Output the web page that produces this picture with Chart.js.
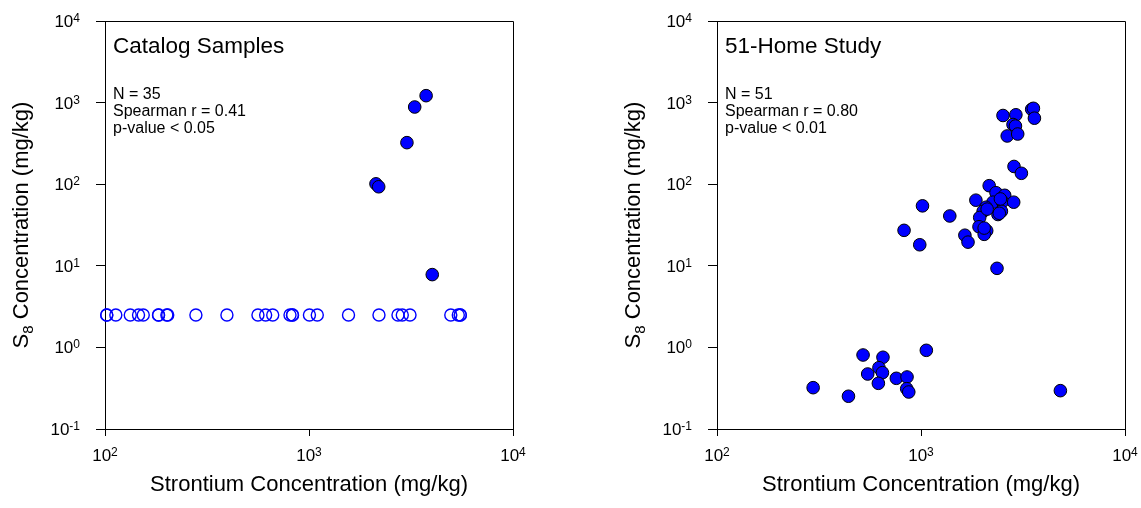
<!DOCTYPE html>
<html>
<head>
<meta charset="utf-8">
<title>S8 vs Strontium</title>
<script src="https://cdn.jsdelivr.net/npm/chart.js@4/dist/chart.umd.min.js"></script>
<style>
  html, body { margin: 0; padding: 0; background: #fff; overflow: hidden; }
  #wrap { position: relative; width: 1141px; height: 508px; }
  canvas { position: absolute; top: 0; }
</style>
</head>
<body>
<div id="wrap">
  <canvas id="catalog" width="570" height="508" style="left:0"></canvas>
  <canvas id="homes" width="529" height="508" style="left:612px"></canvas>
</div>
<script>
// axis decades and their exponent labels
const xTicks = [100, 1000, 10000]
const xTickExp = ['2', '3', '4']
const yTicks = [0.1, 1, 10, 100, 1000, 10000]
const yTickExp = ['-1', '0', '1', '2', '3', '4']

// Catalog samples: Sr and S8 in mg/kg, detects
const catalogSr = [2130, 2196, 3020, 3297, 3750, 4020]
const catalogS8 = [101, 93, 323, 883, 1216, 7.8]
// catalog samples with S8 not detected, drawn at the reporting level
const catalogNdSr = [102, 102, 113, 133, 146, 154, 183, 183, 201, 203, 279, 396, 562, 613, 664,
  807, 830, 830, 1005, 1098, 1562, 2203, 2730, 2866, 3127, 4955, 5393, 5517, 5517]
const ndLevel = 2.5

// 51-home study
const homeSr = [2523, 2918, 3488, 3556, 3597, 2825, 2904, 2646, 2979, 2857, 3105, 2159, 2332, 2572,
  1858, 2254, 2506, 2847, 2083, 2017, 2478, 2384, 1940, 1017, 1384, 826, 986, 1924, 2099, 2041,
  1641, 1700, 2358, 296, 441, 520, 651, 622, 548, 647, 618, 757, 854, 851, 871, 1062, 4822,
  2420, 2110, 2450, 2040]
const homeS8 = [695, 709, 828, 851, 644, 539, 516, 390, 412, 165, 136, 95.9, 78.7, 73.1,
  63.7, 60.2, 61.1, 60.2, 52.2, 46.6, 46.6, 42.5, 39.1, 54.3, 40.8, 27.2, 18.1, 30.1, 26.9, 24.3,
  23.7, 19.5, 9.31, 0.321, 0.252, 0.807, 0.757, 0.564, 0.472, 0.490, 0.363, 0.418, 0.434, 0.312, 0.284, 0.921, 0.295,
  44.0, 49.5, 66.0, 29.0]

const catalogText = ['Catalog Samples', ['N = 35', 'Spearman r = 0.41', 'p-value < 0.05']]
const homeText = ['51-Home Study', ['N = 51', 'Spearman r = 0.80', 'p-value < 0.01']]
const xTitle = 'Strontium Concentration (mg/kg)'
const yTitle = ['S', '8', ' Concentration (mg/kg)']

const FONT = '"Liberation Sans", Arial, sans-serif'
const pts = (xs, ys) => xs.map((x, i) => ({ x, y: Array.isArray(ys) ? ys[i] : ys }))

// 10^n labels, the box, axis titles and the panel annotation
const annotate = {
  id: 'annotate',
  afterDraw(chart, args, opts) {
    const { ctx, chartArea: a, scales: { x, y } } = chart
    ctx.save()
    ctx.strokeStyle = '#000'
    ctx.lineWidth = 1
    ctx.beginPath()
    ctx.moveTo(a.left + 0.5, a.top + 0.5)
    ctx.lineTo(a.right + 0.5, a.top + 0.5)
    ctx.lineTo(a.right + 0.5, a.bottom + 0.5)
    ctx.stroke()

    ctx.fillStyle = '#000'
    const base = '17px ' + FONT
    const sup = '12px ' + FONT

    const label = (exp) => {
      ctx.font = base
      const bw = ctx.measureText('10').width
      ctx.font = sup
      const sw = ctx.measureText(exp).width
      return { bw, sw }
    }

    yTicks.forEach((v, i) => {
      const py = y.getPixelForValue(v)
      const { bw, sw } = label(yTickExp[i])
      const right = a.left - 25
      ctx.textAlign = 'left'
      ctx.textBaseline = 'alphabetic'
      ctx.font = base
      ctx.fillText('10', right - sw - bw, py + 6)
      ctx.font = sup
      ctx.fillText(yTickExp[i], right - sw, py + 1)
    })

    xTicks.forEach((v, i) => {
      const px = x.getPixelForValue(v)
      const { bw, sw } = label(xTickExp[i])
      const left = px - (bw + sw) / 2
      ctx.textAlign = 'left'
      ctx.textBaseline = 'alphabetic'
      ctx.font = base
      ctx.fillText('10', left, a.bottom + 32)
      ctx.font = sup
      ctx.fillText(xTickExp[i], left + bw, a.bottom + 27)
    })

    // x title
    ctx.font = '22px ' + FONT
    ctx.textAlign = 'center'
    ctx.fillText(xTitle, (a.left + a.right) / 2, a.bottom + 62)

    // y title with subscript, rotated
    ctx.save()
    ctx.translate(28, (a.top + a.bottom) / 2)
    ctx.rotate(-Math.PI / 2)
    ctx.textAlign = 'left'
    ctx.font = '22px ' + FONT
    const w0 = ctx.measureText(yTitle[0]).width
    const w2 = ctx.measureText(yTitle[2]).width
    ctx.font = '15px ' + FONT
    const w1 = ctx.measureText(yTitle[1]).width
    let sx = -(w0 + w1 + w2) / 2
    ctx.font = '22px ' + FONT
    ctx.fillText(yTitle[0], sx, 0)
    ctx.font = '15px ' + FONT
    ctx.fillText(yTitle[1], sx + w0, 5)
    ctx.font = '22px ' + FONT
    ctx.fillText(yTitle[2], sx + w0 + w1, 0)
    ctx.restore()

    // panel heading and statistics
    const [heading, stats] = opts.text
    ctx.textAlign = 'left'
    ctx.font = '22.5px ' + FONT
    ctx.fillText(heading, a.left + 8, 53)
    ctx.font = '16px ' + FONT
    stats.forEach((s, i) => ctx.fillText(s, a.left + 8, 98.7 + i * 17.3))
    ctx.restore()
  }
}

function makePanel(id, datasets, text) {
  const canvas = document.getElementById(id)
  return new Chart(canvas, {
    type: 'scatter',
    data: { datasets },
    options: {
      responsive: false,
      animation: false,
      devicePixelRatio: 1,
      layout: { padding: { top: 21, right: canvas.width - 513, left: 0, bottom: 0 } },
      plugins: {
        legend: { display: false },
        tooltip: { enabled: false },
        annotate: { text }
      },
      scales: {
        x: {
          type: 'logarithmic',
          min: 100,
          max: 10000,
          afterBuildTicks: (s) => { s.ticks = xTicks.map((v) => ({ value: v })) },
          afterFit: (s) => { s.height = 79 },
          ticks: { display: false },
          grid: { drawOnChartArea: false, tickLength: 7, color: '#000', lineWidth: 1 },
          border: { color: '#000', width: 1 }
        },
        y: {
          type: 'logarithmic',
          min: 0.1,
          max: 10000,
          afterBuildTicks: (s) => { s.ticks = yTicks.map((v) => ({ value: v })) },
          afterFit: (s) => { s.width = 105 },
          ticks: { display: false },
          grid: { drawOnChartArea: false, tickLength: 9, color: '#000', lineWidth: 1 },
          border: { color: '#000', width: 1 }
        }
      }
    },
    plugins: [annotate]
  })
}

const filled = {
  pointRadius: 6.3,
  pointBackgroundColor: '#0000ff',
  pointBorderColor: '#000',
  pointBorderWidth: 1,
  clip: false
}

makePanel('catalog', [
  {
    label: 'Not detected',
    data: pts(catalogNdSr, ndLevel),
    pointRadius: 6,
    pointBackgroundColor: 'rgba(0,0,0,0)',
    pointBorderColor: '#0000ff',
    pointBorderWidth: 1.4,
    clip: false
  },
  { label: 'Detected', data: pts(catalogSr, catalogS8), ...filled }
], catalogText)

makePanel('homes', [
  { label: 'Homes', data: pts(homeSr, homeS8), ...filled }
], homeText)
</script>
</body>
</html>
